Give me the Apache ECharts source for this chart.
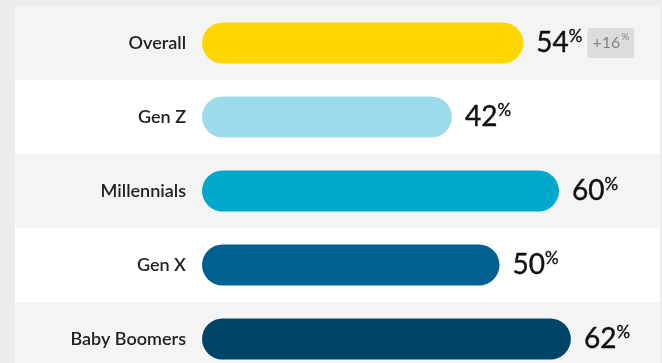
<!DOCTYPE html>
<html><head><meta charset="utf-8">
<style>html,body{margin:0;padding:0;background:#ececec;}#c{width:662px;height:363px;}</style>
<script src="https://cdn.jsdelivr.net/npm/echarts@6/dist/echarts.min.js"></script>
</head><body><div id="c"></div>
<script>
var categories = ['Overall', 'Gen Z', 'Millennials', 'Gen X', 'Baby Boomers'];
var values = [54, 42, 60, 50, 62];
var colors = ['#FFD700', '#9DDBEA', '#00A8CC', '#006190', '#004467'];
var badges = ['+16', null, null, null, null];

var chart = echarts.init(document.getElementById('c'));
var FONT = 'Lato, "Noto Sans", sans-serif';
chart.setOption({
  backgroundColor: '#ececec',
  animation: false,
  grid: [
    {left: 15, right: 2, top: 6, bottom: -13, outerBoundsMode: 'none', containLabel: false},
    {left: 202, right: -135, top: 6, bottom: -13, outerBoundsMode: 'none', containLabel: false}
  ],
  xAxis: [
    {gridIndex: 0, type: 'value', min: 0, max: 1, show: false},
    {gridIndex: 1, type: 'value', min: 0, max: 100, show: false}
  ],
  yAxis: [
    {gridIndex: 0, type: 'category', data: categories, inverse: true,
     axisLine: {show: false}, axisTick: {show: false}, axisLabel: {show: false},
     splitArea: {show: true, areaStyle: {color: ['#f4f4f4', '#ffffff']}}},
    {gridIndex: 1, type: 'category', data: categories, inverse: true,
     axisLine: {show: false}, axisTick: {show: false},
     axisLabel: {margin: 16, fontSize: 18, fontFamily: FONT, fontWeight: 600, color: '#222222'}}
  ],
  series: [{
    type: 'bar', xAxisIndex: 1, yAxisIndex: 1, barWidth: 41,
    data: values.map(function (v, i) {
      return {value: v, itemStyle: {color: colors[i], borderRadius: 20.5}};
    }),
    label: {
      show: true, position: 'right', distance: 13,
      formatter: function (p) {
        var s = '{v|' + p.value + '}{p|%}';
        if (badges[p.dataIndex]) s += '{g|}{b|' + badges[p.dataIndex] + '}{bp|%}';
        return s;
      },
      rich: {
        v: {fontSize: 28, fontFamily: FONT, color: '#111111', textBorderColor: '#111111', textBorderWidth: 0.4, lineHeight: 30},
        p: {fontSize: 17, fontFamily: FONT, color: '#111111', textBorderColor: '#111111', textBorderWidth: 0.4, verticalAlign: 'top', lineHeight: 16},
        g: {width: 5},
        b: {fontSize: 16, fontFamily: FONT, color: '#858585', backgroundColor: '#dcdcdc', height: 30, lineHeight: 30,
            padding: [0, 0, 0, 5], borderRadius: [3, 0, 0, 3]},
        bp: {fontSize: 10, fontFamily: FONT, color: '#858585', backgroundColor: '#dcdcdc', height: 18, lineHeight: 18,
            padding: [0, 5, 12, 1], borderRadius: [0, 3, 3, 0]}
      }
    }
  }]
});
</script></body></html>
